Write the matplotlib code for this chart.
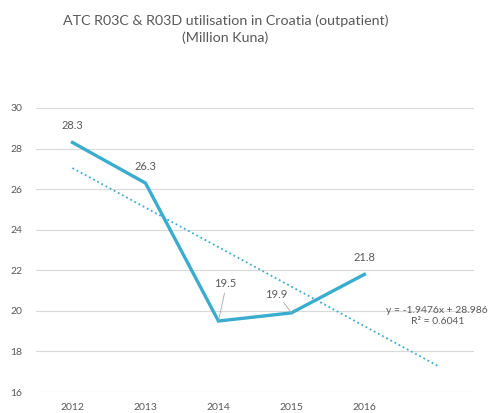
import matplotlib
matplotlib.use("Agg")
import matplotlib.pyplot as plt
import numpy as np

years = ["2012", "2013", "2014", "2015", "2016"]
values = [28.3, 26.3, 19.5, 19.9, 21.8]
trend_slope = -1.9476
trend_intercept = 28.986
r_squared = 0.6041
yticks = [16, 18, 20, 22, 24, 26, 28, 30]

plt.rcParams['font.family'] = ['Lato', 'DejaVu Sans']

fig = plt.figure(figsize=(4.9, 4.13), dpi=100)
ax = fig.add_axes([0.0735, 0.0508, 0.8935, 0.6877])

line_color = "#3AADCF"
text_color = "#595959"

x = np.arange(len(years))
ax.plot(x, values, color=line_color, lw=2.4, solid_joinstyle='miter', zorder=3)

# linear trendline (Excel x = 1..n), extended one period forward
tx = np.array([0, len(years)])
ty = trend_slope * (tx + 1) + trend_intercept
ax.plot(tx, ty, color=line_color, lw=1.3, linestyle=(0, (1, 1.6)), zorder=2)

ax.set_xlim(-0.5, len(years) + 0.5)
ax.set_ylim(16, 30)
ax.set_yticks(yticks)
ax.set_xticks(x)
ax.set_xticklabels(years)
ax.tick_params(axis='both', length=0, labelsize=7.5, colors=text_color)
ax.tick_params(axis='y', pad=10)
ax.tick_params(axis='x', pad=8)
ax.grid(axis='y', color="#D9D9D9", lw=0.8)
ax.set_axisbelow(True)
for s in ax.spines.values():
    s.set_visible(False)

fs = 8
# data labels
ax.annotate(f"{values[0]}", (x[0], values[0]), xytext=(0, 8), textcoords='offset points',
            ha='center', va='bottom', fontsize=fs, color=text_color)
ax.annotate(f"{values[1]}", (x[1], values[1]), xytext=(0, 8), textcoords='offset points',
            ha='center', va='bottom', fontsize=fs, color=text_color)
ax.annotate(f"{values[2]}", (x[2], values[2]), xytext=(5, 23), textcoords='offset points',
            ha='center', va='bottom', fontsize=fs, color=text_color,
            arrowprops=dict(arrowstyle='-', color='#A6A6A6', lw=0.6, shrinkA=1, shrinkB=0,
                            relpos=(0.5, 0)))
ax.annotate(f"{values[3]}", (x[3], values[3]), xytext=(-11, 9.5), textcoords='offset points',
            ha='center', va='bottom', fontsize=fs, color=text_color,
            arrowprops=dict(arrowstyle='-', color='#A6A6A6', lw=0.6, shrinkA=0, shrinkB=0,
                            relpos=(0.75, 0)))
ax.annotate(f"{values[4]}", (x[4], values[4]), xytext=(0, 8), textcoords='offset points',
            ha='center', va='bottom', fontsize=fs, color=text_color)

# trendline equation
ax.text(5.0, 19.75, f"y = {trend_slope}x + {trend_intercept}\nR² = {r_squared}",
        ha='center', va='center', fontsize=7.5, color=text_color, linespacing=1.25)

fig.text(0.46, 0.965, "ATC R03C & R03D utilisation in Croatia (outpatient)\n(Million Kuna)",
         ha='center', va='top', fontsize=10.3, color=text_color, linespacing=1.4)

fig.savefig("out.png", dpi=100)
